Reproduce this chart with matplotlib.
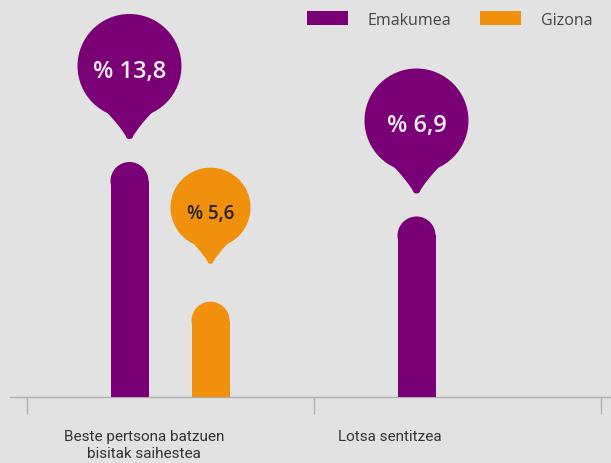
import matplotlib
matplotlib.use("Agg")
import matplotlib.pyplot as plt
import matplotlib.transforms as mtransforms
from matplotlib.patches import Circle, Polygon, Ellipse, Patch
import numpy as np

# ---- data ----
categories = ["Beste pertsona batzuen\nbisitak saihestea", "Lotsa sentitzea"]
series_names = ["Emakumea", "Gizona"]
emakumea_bar = [13.8, 10.6]          # bar heights as drawn
gizona_bar = [5.6, np.nan]
emakumea_labels = ["% 13,8", "% 6,9"]
gizona_labels = ["% 5,6", None]

# ---- style ----
BG = "#e2e2e2"
PURPLE = "#7a0075"
ORANGE = "#f0900c"
TEXT = "#333333"
AXIS = "#b0b0b0"
W, H = 611, 464
label_shift_px = [-26, -67]   # category labels sit left of the category centre

fig = plt.figure(figsize=(W / 100, H / 100), dpi=100, facecolor=BG)
ax = fig.add_axes([10 / W, 66 / H, 601 / W, 398 / H])
ax.set_facecolor(BG)

xunit = 287.0      # px per category
yunit = 17.03      # px per value unit
ax.set_xlim(-160 / xunit, (601 - 160) / xunit)
ax.set_ylim(0, 398 / yunit)

bw = 38 / xunit
off = 40.5 / xunit
capH = 19 / yunit
x = np.arange(len(categories))


def rounded_bars(xs, vals, color):
    for xi, v in zip(xs, vals):
        if np.isnan(v):
            continue
        ax.bar(xi, v - capH, bw, color=color, linewidth=0, zorder=3)
        ax.add_patch(Ellipse((xi, v - capH), bw, 2 * capH, color=color, lw=0, zorder=3))


rounded_bars(x - off, emakumea_bar, PURPLE)
rounded_bars(x + off, gizona_bar, ORANGE)

# axes styling
for s in ["top", "left", "right"]:
    ax.spines[s].set_visible(False)
ax.spines["bottom"].set_color(AXIS)
ax.spines["bottom"].set_linewidth(1.0)
ax.set_yticks([])
ax.set_xticks(x)
ax.set_xticklabels(categories, fontsize=11, color=TEXT,
                   family=["Roboto", "DejaVu Sans"], linespacing=1.3)
ax.tick_params(axis="x", which="major", length=0, pad=23)
ax.set_xticks([-0.5, 0.5, 1.5], minor=True)
ax.tick_params(axis="x", which="minor", length=12.2, width=1, color=AXIS)
for lab, dx in zip(ax.get_xticklabels(), label_shift_px):
    lab.set_transform(lab.get_transform() + mtransforms.Affine2D().translate(dx, 0))

# balloons
ident = mtransforms.IdentityTransform()


def tail_poly(scale):
    t = np.linspace(0, 1, 24)
    p0 = np.array([-22.0, 26.0]); p1 = np.array([-9.0, 12.0]); p2 = np.array([-3.5, 2.5])
    left = ((1 - t) ** 2)[:, None] * p0 + (2 * (1 - t) * t)[:, None] * p1 + (t ** 2)[:, None] * p2
    ang = np.linspace(np.pi, 2 * np.pi, 12)
    tip = np.column_stack([3.5 * np.cos(ang), 2.5 + 2.5 * np.sin(ang)])
    right = left[::-1] * np.array([-1, 1])
    top = np.array([[22.0, 50.0], [-22.0, 50.0]])
    pts = np.vstack([left, tip, right, top])
    return pts * scale


def balloon(xd, val, label, color, R, center_off, txtcolor, fs):
    if label is None or np.isnan(val):
        return
    px, py = ax.transData.transform((xd, val))
    cy = py + center_off
    s = R / 52.0
    tip_y = cy - 73 * s
    ax_tail = tail_poly(s) + np.array([px, tip_y])
    fig.add_artist(Polygon(ax_tail, closed=True, color=color, lw=0, transform=ident, zorder=5))
    fig.add_artist(Circle((px, cy), R, color=color, lw=0, transform=ident, zorder=5))
    fig.text(px, cy - 5, label, transform=ident, ha="center", va="center",
             fontsize=fs, color=txtcolor, family=["Open Sans", "DejaVu Sans"],
             fontweight="semibold", zorder=6)


for i in range(len(categories)):
    balloon(x[i] - off, emakumea_bar[i], emakumea_labels[i], PURPLE, 52, 96, "#f4eef4", 17)
    balloon(x[i] + off, gizona_bar[i], gizona_labels[i], ORANGE, 40, 94, "#222222", 13.5)

# legend
handles = [Patch(facecolor=PURPLE, edgecolor="none"), Patch(facecolor=ORANGE, edgecolor="none")]
leg = fig.legend(handles, series_names, loc="upper right", ncol=2, frameon=False,
                 bbox_to_anchor=(592 / W, 1 - 12 / H), bbox_transform=fig.transFigure,
                 borderaxespad=0, borderpad=0, handlelength=2.6, handleheight=1.0,
                 handletextpad=1.2, columnspacing=1.8,
                 prop={"family": ["Open Sans", "DejaVu Sans"], "size": 11.5})
for t in leg.get_texts():
    t.set_color("#444444")

fig.savefig("out.png", dpi=100, facecolor=BG)
